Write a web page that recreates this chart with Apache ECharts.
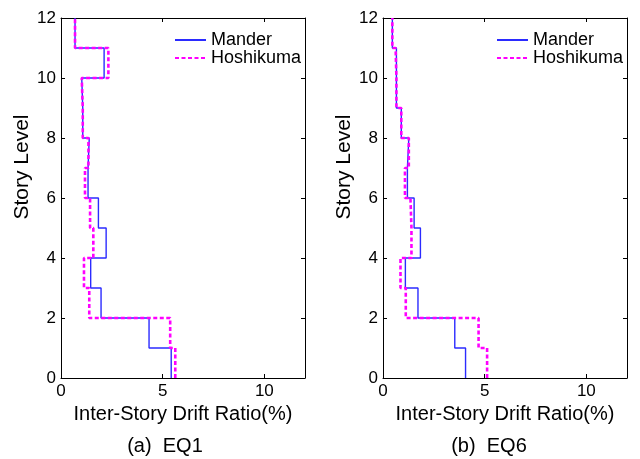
<!DOCTYPE html>
<html>
<head>
<meta charset="utf-8">
<title>Inter-Story Drift Ratio</title>
<script src="https://cdn.jsdelivr.net/npm/echarts@6/dist/echarts.min.js"></script>
<style>
  html, body { margin: 0; padding: 0; background: #fff; }
  #chart { width: 640px; height: 459px; }
</style>
</head>
<body>
<div id="chart"></div>
<script>
// story levels (floor boundaries) and peak drift per story, story 1 at the bottom
const storyLevels = [0, 1, 2, 3, 4, 5, 6, 7, 8, 9, 10, 11, 12];
const eq1Mander    = [5.42, 4.33, 1.97, 1.46, 2.22, 1.84, 1.33, 1.39, 1.07, 1.02, 2.12, 0.69];
const eq1Hoshikuma = [5.62, 5.37, 1.39, 1.13, 1.59, 1.43, 1.18, 1.35, 1.07, 1.02, 2.33, 0.69];
const eq6Mander    = [4.06, 3.53, 1.72, 1.10, 1.84, 1.53, 1.20, 1.27, 0.90, 0.66, 0.66, 0.46];
const eq6Hoshikuma = [5.12, 4.70, 1.12, 0.86, 1.40, 1.35, 1.08, 1.27, 0.90, 0.66, 0.62, 0.46];
const xTicks = [0, 5, 10];
const yTicks = [0, 2, 4, 6, 8, 10, 12];
const captions = ['(a)  EQ1', '(b)  EQ6'];

const FONT = 'Liberation Sans, Arial, sans-serif';

// vertical step: each story holds its drift value between two floor levels
function stepPoints (vals) {
  let pts = [];
  vals.forEach((v, i) => {
    pts.push([v, storyLevels[i]]);
    pts.push([v, storyLevels[i + 1]]);
  });
  return pts;
}

const grids = [
  { left: 61, top: 18, width: 244, height: 360 },
  { left: 383, top: 18, width: 244, height: 360 }
];

function xAx (gi, pos) {
  let main = pos === 'bottom';
  return {
    gridIndex: gi, type: 'value', position: pos,
    min: 0, max: 12, interval: 5,
    name: main ? 'Inter-Story Drift Ratio(%)' : '',
    nameLocation: 'middle', nameGap: 22,
    nameTextStyle: { color: '#000', fontSize: 20, fontFamily: FONT },
    axisLine: { show: true, onZero: false, lineStyle: { color: '#000', width: 1 } },
    axisTick: { show: true, inside: true, length: 4, lineStyle: { color: '#000' } },
    axisLabel: {
      show: main, color: '#000', fontSize: 17, fontFamily: FONT, margin: 5,
      formatter: v => xTicks.includes(v) ? String(v) : ''
    },
    splitLine: { show: false }
  };
}

function yAx (gi, pos) {
  let main = pos === 'left';
  return {
    gridIndex: gi, type: 'value', position: pos,
    min: 0, max: 12, interval: 2,
    axisLine: { show: true, onZero: false, lineStyle: { color: '#000', width: 1 } },
    axisTick: { show: true, inside: true, length: 4, lineStyle: { color: '#000' } },
    axisLabel: {
      show: main, color: '#000', fontSize: 17, fontFamily: FONT, margin: 5,
      formatter: v => yTicks.includes(v) ? String(v) : ''
    },
    splitLine: { show: false }
  };
}

function legendFor (left) {
  return {
    orient: 'vertical', left: left, top: 26,
    itemWidth: 31, itemHeight: 17, itemGap: 0,
    itemStyle: { opacity: 0 },
    textStyle: { color: '#000', fontSize: 18, lineHeight: 17, fontFamily: FONT },
    data: ['Mander', 'Hoshikuma']
  };
}

// rotated y axis titles, placed by hand like the original
function yTitle (cx) {
  return {
    type: 'text', x: cx, y: 167, rotation: Math.PI / 2,
    style: { text: 'Story Level', fill: '#000', fontSize: 21, fontFamily: FONT,
      align: 'center', verticalAlign: 'middle' }
  };
}

const manderStyle = { color: '#2b2bff', width: 1.4 };
const hoshiStyle = { color: '#ff00ff', width: 2.6, type: [4, 2.5] };

function lineSeries (name, vals, gi, style) {
  return {
    name: name, type: 'line', xAxisIndex: gi, yAxisIndex: gi,
    data: stepPoints(vals), symbol: 'none', silent: true, animation: false,
    color: style.color,
    lineStyle: style
  };
}

const chart = echarts.init(document.getElementById('chart'), null, { renderer: 'canvas' });
chart.setOption({
  backgroundColor: '#fff',
  animation: false,
  grid: grids,
  title: [
    { text: captions[0], left: 160, top: 431, textAlign: 'center',
      textStyle: { color: '#000', fontSize: 20, fontWeight: 'normal', fontFamily: FONT } },
    { text: captions[1], left: 484, top: 431, textAlign: 'center',
      textStyle: { color: '#000', fontSize: 20, fontWeight: 'normal', fontFamily: FONT } }
  ],
  graphic: [yTitle(22), yTitle(344)],
  legend: [legendFor(169), legendFor(491)],
  xAxis: [xAx(0, 'bottom'), xAx(1, 'bottom'), xAx(0, 'top'), xAx(1, 'top')],
  yAxis: [yAx(0, 'left'), yAx(1, 'left'), yAx(0, 'right'), yAx(1, 'right')],
  series: [
    lineSeries('Mander', eq1Mander, 0, manderStyle),
    lineSeries('Hoshikuma', eq1Hoshikuma, 0, hoshiStyle),
    lineSeries('Mander', eq6Mander, 1, manderStyle),
    lineSeries('Hoshikuma', eq6Hoshikuma, 1, hoshiStyle)
  ]
});
</script>
</body>
</html>
